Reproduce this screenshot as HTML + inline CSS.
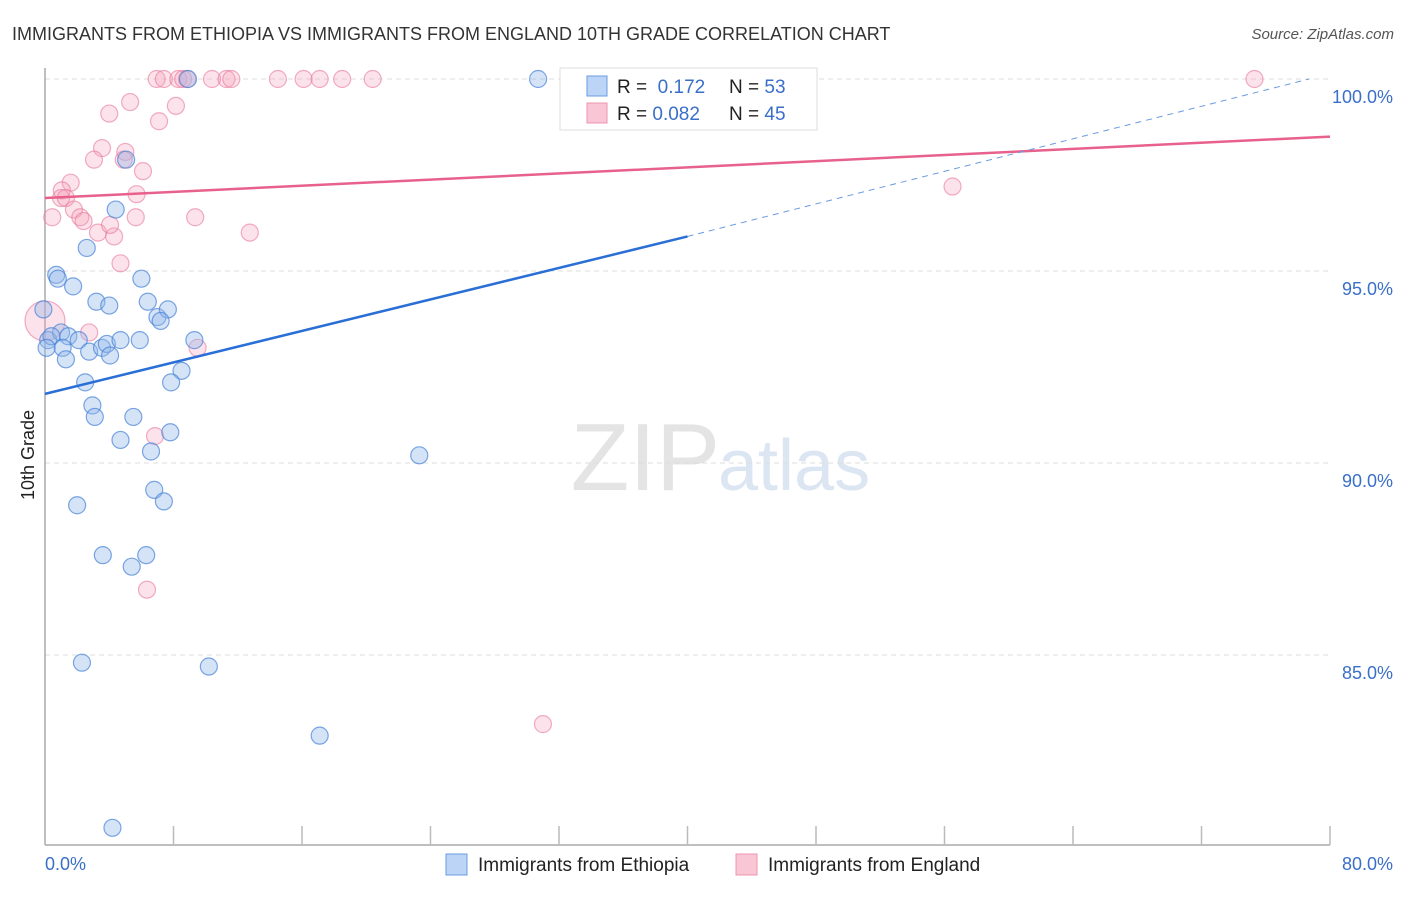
<!DOCTYPE html>
<html><head><meta charset="utf-8"><style>
body{margin:0;background:#fff;font-family:"Liberation Sans",sans-serif;}
svg text{font-family:"Liberation Sans",sans-serif;}
</style></head><body>
<svg id="chart" width="1406" height="892">
<text x="12" y="40" font-size="18" fill="#333">IMMIGRANTS FROM ETHIOPIA VS IMMIGRANTS FROM ENGLAND 10TH GRADE CORRELATION CHART</text>
<text x="1394" y="39" font-size="15" fill="#555" text-anchor="end" font-style="italic">Source: ZipAtlas.com</text>
<text x="720" y="490" font-size="96" fill="#e4e4e4" text-anchor="end" font-family="Liberation Serif">ZIP</text>
<text x="718" y="490" font-size="72" fill="#dce6f3">atlas</text>
<g id="grid"></g><g id="axes"></g><g id="pts"></g><g id="lines"></g>
<text transform="translate(34,455) rotate(-90)" font-size="18" fill="#222" text-anchor="middle">10th Grade</text>
<text x="45" y="870" font-size="18" fill="#3a6fc8">0.0%</text>
<text x="1393" y="870" font-size="18" fill="#3a6fc8" text-anchor="end">80.0%</text>
<g>
<rect x="560" y="68" width="257" height="62" fill="#fff" stroke="#ddd"/>
<rect x="587" y="76" width="20" height="20" fill="#bcd4f5" stroke="#6a9be0"/>
<rect x="587" y="103" width="20" height="20" fill="#f8c6d4" stroke="#ee94b0"/>
<text x="617" y="93" font-size="19" fill="#222">R = <tspan fill="#3a6fc8">&#160;0.172</tspan></text>
<text x="729" y="93" font-size="19" fill="#222">N = <tspan fill="#3a6fc8">53</tspan></text>
<text x="617" y="120" font-size="19" fill="#222">R = <tspan fill="#3a6fc8">0.082</tspan></text>
<text x="729" y="120" font-size="19" fill="#222">N = <tspan fill="#3a6fc8">45</tspan></text>
</g>
<g><rect x="446" y="854" width="21" height="21" fill="#bcd4f5" stroke="#6a9be0"/><text x="478" y="871" font-size="19" fill="#222">Immigrants from Ethiopia</text></g>
<g><rect x="736" y="854" width="21" height="21" fill="#f8c6d4" stroke="#ee94b0"/><text x="768" y="871" font-size="19" fill="#222">Immigrants from England</text></g>
</svg>
<script>
const yTicks=[100,95,90,85];
const xTicks=[0,8,16,24,32,40,48,56,64,72,80];
const ethX=[30.7,8.9,5.05,4.4,2.6,0.7,0.8,1.75,6.0,3.2,4.0,6.4,7.0,7.65,7.2,0.2,1.0,0.4,1.45,2.1,1.1,1.3,2.75,3.55,3.85,4.05,4.7,5.9,9.3,8.5,7.85,2.5,2.95,3.1,5.5,4.7,7.8,6.6,23.3,6.8,7.4,2.0,3.6,6.3,5.4,2.3,10.2,17.1,4.2,33.1,0.1,-0.1];
const ethY=[100,100,97.9,96.6,95.6,94.9,94.8,94.6,94.8,94.2,94.1,94.2,93.8,94.0,93.7,93.2,93.4,93.3,93.3,93.2,93.0,92.7,92.9,93.0,93.1,92.8,93.2,93.2,93.2,92.4,92.1,92.1,91.5,91.2,91.2,90.6,90.8,90.3,90.2,89.3,89.0,88.9,87.6,87.6,87.3,84.8,84.7,82.9,80.5,100,93.0,94.0];
const engX=[6.95,7.4,8.3,8.6,8.85,10.4,11.3,11.6,14.5,16.1,17.1,18.5,20.4,75.3,4.0,5.3,8.15,7.1,3.55,3.05,5.0,4.9,6.1,5.7,1.6,1.05,1.0,1.3,1.8,2.2,2.4,0.45,3.3,4.3,4.05,5.65,9.35,12.75,4.7,2.75,9.5,6.85,6.35,31.0,56.5,0.0];
const engY=[100,100,100,100,100,100,100,100,100,100,100,100,100,100,99.1,99.4,99.3,98.9,98.2,97.9,98.1,97.9,97.6,97.0,97.3,97.1,96.9,96.9,96.6,96.4,96.3,96.4,96.0,95.9,96.2,96.4,96.4,96.0,95.2,93.4,93.0,90.7,86.7,83.2,97.2,93.7];
const ethLine=[[0,91.8],[40,95.9]], ethDash=[[40,95.9],[78.7,100]];
const engLine=[[0,96.9],[80,98.5]];
const X=v=>45+v*1285/80, Y=v=>79+(100-v)*38.4;
const NS='http://www.w3.org/2000/svg';
function mk(t,a,p){const e=document.createElementNS(NS,t);for(const k in a)e.setAttribute(k,a[k]);document.getElementById(p).appendChild(e);return e;}
yTicks.forEach(t=>{
 const l=mk('line',{x1:45,x2:1330,y1:Y(t),y2:Y(t),stroke:'#ddd','stroke-dasharray':'5,4'},'grid');
 
 
 const tx=mk('text',{x:1393,y:Y(t)+24,'font-size':18,fill:'#3a6fc8','text-anchor':'end'},'grid');
 tx.textContent=t.toFixed(1)+'%';
 
 
});
let ax=mk('line',{x1:45,x2:45,y1:68,y2:845,stroke:'#aaa','stroke-width':1.5},'axes');


ax=mk('line',{x1:45,x2:1330,y1:845,y2:845,stroke:'#aaa','stroke-width':1.5},'axes');


xTicks.slice(1).forEach(t=>{
 const l=mk('line',{x1:X(t),x2:X(t),y1:826,y2:845,stroke:'#bbb','stroke-width':1.5},'axes');
 
 
});
engX.forEach((v,i)=>{
 const c=mk('circle',{cx:X(v),cy:Y(engY[i]),r:i==engX.length-1?20:8.5,fill:'rgba(244,160,185,0.3)',stroke:'rgba(232,120,155,0.6)','stroke-width':1.2},'pts');
 
 
});
ethX.forEach((v,i)=>{
 const c=mk('circle',{cx:X(v),cy:Y(ethY[i]),r:8.5,fill:'rgba(150,185,235,0.4)',stroke:'rgba(70,130,215,0.7)','stroke-width':1.2},'pts');
 
 
});
let l=mk('line',{x1:X(engLine[0][0]),y1:Y(engLine[0][1]),x2:X(engLine[1][0]),y2:Y(engLine[1][1]),stroke:'#e8618c','stroke-width':2.5},'lines');


l=mk('line',{x1:X(ethLine[0][0]),y1:Y(ethLine[0][1]),x2:X(ethLine[1][0]),y2:Y(ethLine[1][1]),stroke:'#2a6fd6','stroke-width':2.5},'lines');


l=mk('line',{x1:X(ethDash[0][0]),y1:Y(ethDash[0][1]),x2:X(ethDash[1][0]),y2:Y(ethDash[1][1]),stroke:'#6a9be0','stroke-width':1,'stroke-dasharray':'6,5'},'lines');


</script>
</body></html>
